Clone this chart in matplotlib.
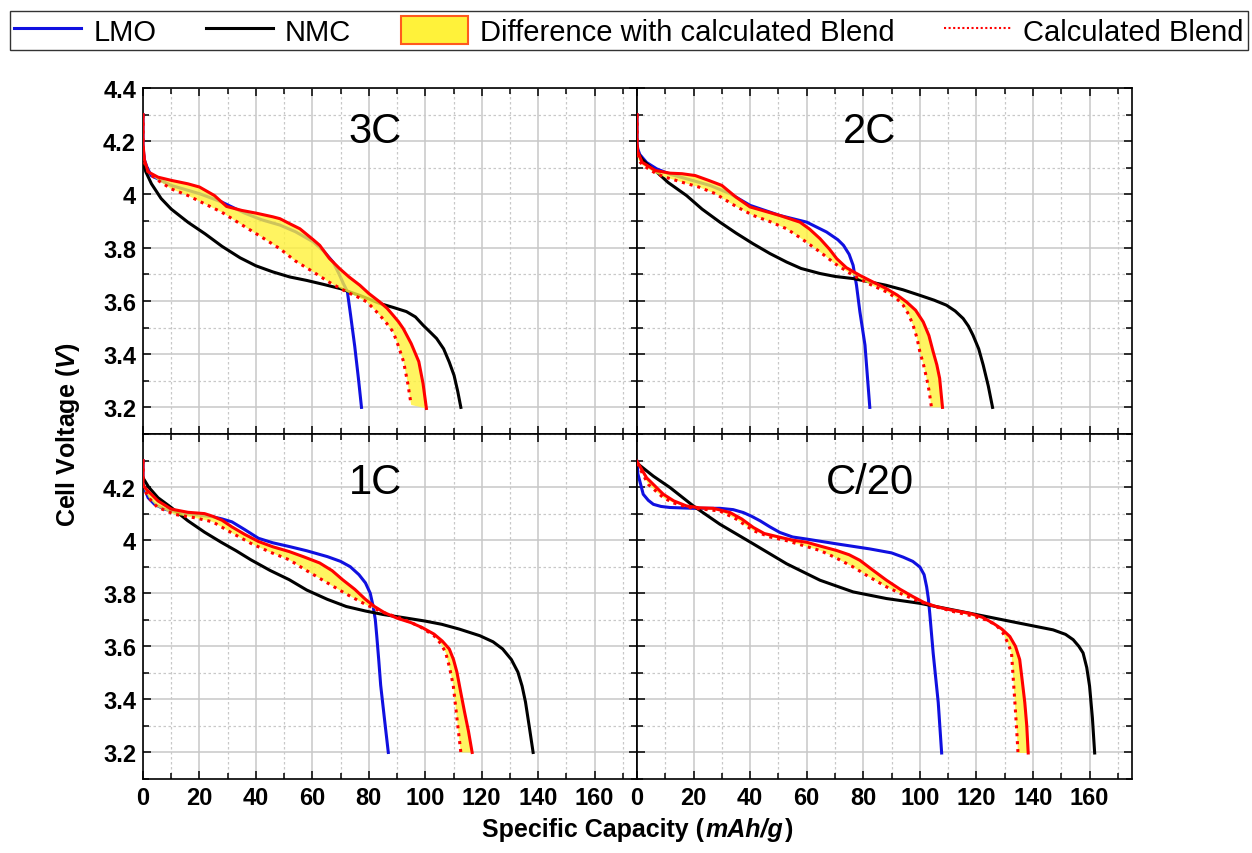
import numpy as np
import matplotlib
matplotlib.use("Agg")
import matplotlib.pyplot as plt
from matplotlib.lines import Line2D
from matplotlib.patches import Patch
from matplotlib.ticker import MultipleLocator, FuncFormatter
from matplotlib.offsetbox import TextArea, HPacker, AnchoredOffsetbox

plt.rcParams["font.family"] = ["Liberation Sans", "DejaVu Sans"]
plt.rcParams["mathtext.fontset"] = "custom"
plt.rcParams["mathtext.it"] = "Liberation Sans:bold:italic"
plt.rcParams["mathtext.rm"] = "Liberation Sans:bold"

# ===============================
# Data (capacity in mAh/g, voltage in V)
# ===============================
# --- 3C ---
lmo_3c_x = [0, 0, 0.5, 1.5, 2.9, 10, 20, 27.8, 36, 42, 48.5, 54, 60.3, 64, 67.4, 69.5, 71, 72.4, 73.5, 75, 76.3, 77.4]
lmo_3c_y = [4.30, 4.18, 4.13, 4.10, 4.071, 4.034, 4.003, 3.972, 3.93, 3.905, 3.885, 3.86, 3.822, 3.787, 3.745, 3.70, 3.665, 3.635, 3.55, 3.43, 3.31, 3.20]
nmc_3c_x = [0, 1, 3, 6.4, 10, 16, 22, 28, 34.4, 40, 46, 52, 58, 64, 70, 77, 84, 88.5, 93.3, 96.5, 99.2, 102, 104, 106.5, 108.5, 110.2, 111.5, 112.6]
nmc_3c_y = [4.12, 4.085, 4.04, 3.985, 3.945, 3.895, 3.852, 3.805, 3.762, 3.732, 3.709, 3.69, 3.677, 3.662, 3.646, 3.62, 3.59, 3.576, 3.56, 3.54, 3.509, 3.48, 3.459, 3.42, 3.37, 3.32, 3.26, 3.20]
meas_3c_x = [0, 0, 0.5, 1.8, 5.3, 10, 15.9, 20, 25.3, 29.6, 35, 40, 46, 48.5, 52, 55.6, 58, 60.3, 62.6, 66, 69.7, 73, 76.8, 80, 83.9, 86.5, 88.6, 90.5, 92.2, 95, 97.7, 99.2, 100.4]
meas_3c_y = [4.30, 4.19, 4.13, 4.085, 4.065, 4.053, 4.04, 4.028, 3.996, 3.955, 3.94, 3.93, 3.916, 3.909, 3.89, 3.871, 3.85, 3.83, 3.809, 3.76, 3.721, 3.69, 3.659, 3.628, 3.596, 3.572, 3.546, 3.522, 3.496, 3.44, 3.372, 3.29, 3.196]
calc_3c_x = [0, 0, 0.5, 2, 5.3, 10, 15.9, 21.8, 27.8, 35.3, 42, 48.5, 54, 60.3, 66, 72.1, 76, 79.2, 81.6, 83.9, 86.3, 88.6, 90.5, 92.3, 93.8, 95]
calc_3c_y = [4.30, 4.17, 4.12, 4.08, 4.053, 4.021, 3.996, 3.965, 3.934, 3.884, 3.84, 3.796, 3.75, 3.709, 3.67, 3.634, 3.615, 3.597, 3.572, 3.546, 3.516, 3.484, 3.43, 3.372, 3.29, 3.209]

# --- 2C ---
lmo_2c_x = [0, 0, 0.3, 1, 3.4, 7, 12, 17.5, 25.8, 32.9, 40, 50.5, 60, 67, 71, 73, 75, 76.4, 77.6, 78.8, 80.6, 82.3]
lmo_2c_y = [4.30, 4.19, 4.17, 4.15, 4.12, 4.096, 4.075, 4.059, 4.034, 4.003, 3.959, 3.921, 3.896, 3.859, 3.83, 3.809, 3.775, 3.734, 3.659, 3.559, 3.434, 3.20]
nmc_2c_x = [0, 2, 5, 7, 11, 17.5, 23, 29.3, 35, 41, 47, 52.9, 58, 64.7, 70, 76.4, 82, 88, 94, 100, 105, 109.4, 112.5, 115.3, 117.2, 118.8, 120.8, 122.4, 124.2, 125.7]
nmc_2c_y = [4.16, 4.13, 4.10, 4.084, 4.045, 3.996, 3.945, 3.896, 3.855, 3.815, 3.778, 3.746, 3.722, 3.703, 3.692, 3.684, 3.672, 3.659, 3.642, 3.621, 3.603, 3.584, 3.562, 3.534, 3.505, 3.471, 3.42, 3.359, 3.28, 3.20]
meas_2c_x = [0, 0, 0.3, 1.8, 6.5, 11.7, 15.9, 20.6, 25.3, 30, 35, 40, 50.5, 57.6, 61, 64.7, 68, 70.6, 74, 78.8, 84, 88.2, 92, 95.3, 98.5, 101.2, 103.2, 104.7, 106, 107, 108]
meas_2c_y = [4.30, 4.196, 4.16, 4.121, 4.09, 4.08, 4.078, 4.071, 4.053, 4.034, 3.99, 3.953, 3.921, 3.896, 3.87, 3.834, 3.795, 3.759, 3.725, 3.696, 3.668, 3.646, 3.622, 3.596, 3.565, 3.521, 3.47, 3.409, 3.36, 3.309, 3.20]
calc_2c_x = [0, 0, 0.5, 2, 7, 10, 15.9, 21.8, 27.7, 35, 41.1, 47, 52.9, 58, 64.7, 70, 76.4, 82, 88.2, 91.5, 94.1, 96, 97.6, 99, 100, 101.3, 102.4, 103.3, 104.1]
calc_2c_y = [4.30, 4.17, 4.13, 4.11, 4.077, 4.065, 4.046, 4.028, 4.003, 3.955, 3.921, 3.898, 3.871, 3.835, 3.784, 3.74, 3.696, 3.664, 3.634, 3.612, 3.584, 3.55, 3.509, 3.46, 3.409, 3.36, 3.309, 3.26, 3.20]

# --- 1C ---
lmo_1c_x = [0, 0, 1.8, 4.1, 7.6, 12.3, 19, 24.7, 28, 31.5, 36, 40.9, 46, 51.8, 58, 65.3, 70, 73.4, 76.5, 78.8, 80.5, 81.5, 82.3, 82.8, 83.5, 84.2, 85.5, 86.9]
lmo_1c_y = [4.30, 4.21, 4.16, 4.135, 4.117, 4.105, 4.095, 4.088, 4.08, 4.069, 4.04, 4.007, 3.99, 3.976, 3.96, 3.938, 3.92, 3.90, 3.87, 3.839, 3.80, 3.752, 3.70, 3.64, 3.55, 3.453, 3.33, 3.20]
nmc_1c_x = [0, 2, 5.3, 10, 15.9, 21.8, 27.7, 33, 38.2, 45, 51.8, 58, 65.3, 72, 78.8, 85, 92.3, 100, 105.8, 112, 119.3, 124, 127.4, 130.5, 132.8, 134.3, 135.5, 136.8, 138.2]
nmc_1c_y = [4.235, 4.20, 4.16, 4.123, 4.073, 4.03, 3.992, 3.96, 3.926, 3.886, 3.851, 3.812, 3.777, 3.75, 3.733, 3.72, 3.708, 3.695, 3.683, 3.665, 3.64, 3.617, 3.59, 3.55, 3.503, 3.45, 3.39, 3.30, 3.20]
meas_1c_x = [0, 0, 0.5, 1.8, 5.3, 10, 15.9, 21.8, 24.7, 28, 31.5, 36, 40.9, 46, 51.8, 57, 62.6, 67, 70.7, 75, 78.8, 82, 85.5, 90, 95, 99, 103.1, 106, 108.5, 110, 111.2, 112.5, 113.9, 115.3, 116.6]
meas_1c_y = [4.30, 4.212, 4.20, 4.185, 4.148, 4.117, 4.105, 4.10, 4.09, 4.075, 4.05, 4.022, 3.995, 3.975, 3.957, 3.937, 3.914, 3.885, 3.851, 3.815, 3.777, 3.75, 3.727, 3.706, 3.689, 3.67, 3.646, 3.62, 3.59, 3.55, 3.503, 3.43, 3.353, 3.28, 3.20]
calc_1c_x = [0, 0, 0.5, 2, 5, 11.2, 18, 24.7, 31, 38.2, 45, 51.8, 58, 65.3, 72, 78.8, 85, 92.3, 98, 103.1, 105.5, 107.2, 108.6, 109.9, 111.2, 112.6]
calc_1c_y = [4.30, 4.21, 4.19, 4.16, 4.125, 4.097, 4.085, 4.069, 4.03, 3.988, 3.955, 3.926, 3.885, 3.839, 3.797, 3.758, 3.728, 3.702, 3.675, 3.64, 3.61, 3.577, 3.52, 3.453, 3.33, 3.20]

# --- C/20 ---
lmo_c20_x = [0, 0.3, 1, 2.2, 4, 5.8, 8.5, 11.7, 19.9, 29.3, 34, 37.6, 40.5, 43.5, 47, 50.5, 55, 60, 70.6, 82.3, 90, 94.1, 97.5, 100, 101.5, 102.4, 103, 103.5, 104.7, 106.5, 107.7]
lmo_c20_y = [4.297, 4.25, 4.222, 4.173, 4.15, 4.135, 4.127, 4.123, 4.12, 4.12, 4.115, 4.104, 4.09, 4.073, 4.05, 4.029, 4.012, 4.004, 3.986, 3.967, 3.952, 3.936, 3.92, 3.899, 3.87, 3.824, 3.78, 3.724, 3.575, 3.388, 3.198]
nmc_c20_x = [0, 5.8, 11.7, 19.9, 29.3, 41.1, 52.9, 64.7, 76.4, 88.2, 100, 111.8, 123.6, 135.3, 147.1, 151.5, 154.2, 156.2, 157.7, 159, 160, 161, 161.8]
nmc_c20_y = [4.29, 4.241, 4.198, 4.129, 4.06, 3.986, 3.911, 3.849, 3.805, 3.78, 3.762, 3.737, 3.712, 3.687, 3.662, 3.645, 3.625, 3.60, 3.575, 3.52, 3.45, 3.33, 3.198]
meas_c20_x = [0, 3.4, 9.3, 13, 17.5, 22, 27, 32.9, 37, 41.1, 45, 50.5, 55, 60, 65, 70.6, 75, 78.8, 83, 88.2, 93, 97.6, 101.5, 105.9, 111, 117.7, 122, 125.9, 129, 131.8, 133.8, 135.3, 136.2, 137.1, 137.8, 138.3]
meas_c20_y = [4.297, 4.235, 4.173, 4.148, 4.129, 4.122, 4.12, 4.104, 4.08, 4.048, 4.025, 4.011, 4.0, 3.992, 3.977, 3.961, 3.945, 3.924, 3.89, 3.849, 3.815, 3.787, 3.765, 3.749, 3.737, 3.724, 3.71, 3.687, 3.665, 3.637, 3.60, 3.55, 3.47, 3.388, 3.30, 3.198]
calc_c20_x = [0, 4, 9.3, 13, 17.5, 22, 29.3, 35, 41.1, 47, 52.9, 58, 64.7, 70, 76.4, 82, 88.2, 94, 100, 106, 111.8, 118, 123.6, 127, 129.4, 131.2, 132.4, 133, 133.6, 134.2, 134.7]
calc_c20_y = [4.29, 4.21, 4.16, 4.14, 4.125, 4.118, 4.11, 4.08, 4.036, 4.012, 3.998, 3.982, 3.961, 3.935, 3.899, 3.862, 3.824, 3.795, 3.768, 3.748, 3.731, 3.716, 3.699, 3.68, 3.65, 3.61, 3.575, 3.48, 3.388, 3.29, 3.198]

rates = ["3C", "2C", "1C", "C/20"]
lmo = [(lmo_3c_x, lmo_3c_y), (lmo_2c_x, lmo_2c_y), (lmo_1c_x, lmo_1c_y), (lmo_c20_x, lmo_c20_y)]
nmc = [(nmc_3c_x, nmc_3c_y), (nmc_2c_x, nmc_2c_y), (nmc_1c_x, nmc_1c_y), (nmc_c20_x, nmc_c20_y)]
meas = [(meas_3c_x, meas_3c_y), (meas_2c_x, meas_2c_y), (meas_1c_x, meas_1c_y), (meas_c20_x, meas_c20_y)]
calc = [(calc_3c_x, calc_3c_y), (calc_2c_x, calc_2c_y), (calc_1c_x, calc_1c_y), (calc_c20_x, calc_c20_y)]

BLUE = "#1010e0"
RED = "#ff0000"
YELLOW = "#fff23a"

# ===============================
# Figure and panels
# ===============================
fig = plt.figure(figsize=(12.52, 8.54), dpi=100)
L, M, R = 143 / 1252, 637 / 1252, 1132 / 1252
T, MY, B = 1 - 89 / 854, 1 - 435 / 854, 1 - 780 / 854
boxes = [(L, MY, M - L, T - MY), (M, MY, R - M, T - MY),
         (L, B, M - L, MY - B), (M, B, R - M, MY - B)]

fmt = FuncFormatter(lambda v, p: "%g" % round(v, 2))

for i, box in enumerate(boxes):
    ax = fig.add_axes(box)
    ax.set_xlim(0, 175)
    ax.set_ylim(3.1, 4.4)
    ax.xaxis.set_major_locator(MultipleLocator(20))
    ax.xaxis.set_minor_locator(MultipleLocator(10))
    if i < 2:
        ax.set_yticks(np.arange(3.2, 4.41, 0.2))
    else:
        ax.set_yticks(np.arange(3.2, 4.21, 0.2))
    ax.yaxis.set_minor_locator(MultipleLocator(0.1))
    ax.xaxis.set_major_formatter(fmt)
    ax.yaxis.set_major_formatter(fmt)
    ax.grid(which="major", color="#c8c8c8", lw=1.1)
    ax.grid(which="minor", color="#c8c8c8", lw=0.9, ls=(0, (2, 2)))
    ax.set_axisbelow(True)
    ax.tick_params(which="both", direction="in", top=True, right=True, width=1.1)
    ax.tick_params(which="major", length=6, labelsize=17, pad=5)
    ax.tick_params(which="minor", length=4)
    for lab in ax.get_xticklabels() + ax.get_yticklabels():
        lab.set_fontweight("bold")
    if i % 2 == 1:
        ax.tick_params(labelleft=False)
    if i < 2:
        ax.tick_params(labelbottom=False)
    for s in ax.spines.values():
        s.set_linewidth(1.2)

    ax.plot(*lmo[i], color=BLUE, lw=2.2, zorder=2)
    ax.plot(*nmc[i], color="black", lw=2.2, zorder=2)
    mx, my = meas[i]
    cx, cy = calc[i]
    ax.fill(list(mx) + list(cx)[::-1], list(my) + list(cy)[::-1],
            color=YELLOW, alpha=0.8, lw=0, zorder=3)
    ax.plot(cx, cy, color=RED, lw=2.2, ls=(0, (1, 1.6)), zorder=4)
    ax.plot(mx, my, color=RED, lw=2.2, zorder=5)
    ty = 0.875 if i < 2 else 0.86
    ax.text(0.47, ty, rates[i], transform=ax.transAxes, ha="center", va="center", fontsize=30)

# axis labels
fig.text(0.054, (T + B) / 2, "Cell Voltage ($\\mathit{V}$)", rotation=90, ha="center", va="center",
         fontsize=18, fontweight="bold")
xlab = HPacker(children=[
    TextArea("Specific Capacity (", textprops=dict(fontsize=18, fontweight="bold")),
    TextArea("mAh/g", textprops=dict(fontsize=18, fontweight="bold", fontstyle="italic")),
    TextArea(")", textprops=dict(fontsize=18, fontweight="bold")),
], align="baseline", pad=0, sep=1)
fig.add_artist(AnchoredOffsetbox(loc="center", child=xlab, frameon=False, pad=0, borderpad=0,
                                 bbox_to_anchor=((L + R) / 2, 1 - 830 / 854),
                                 bbox_transform=fig.transFigure))

handles = [
    Line2D([], [], color=BLUE, lw=2.2),
    Line2D([], [], color="black", lw=2.2),
    Patch(facecolor=YELLOW, edgecolor="#ff5a1e", lw=1.5),
    Line2D([], [], color=RED, lw=1.5, ls=(0, (1, 1.2))),
]
labels = ["LMO", "NMC", "Difference with calculated Blend", "Calculated Blend"]
leg = fig.legend(handles, labels, loc="lower left",
                 bbox_to_anchor=(10 / 1252, 1 - 51 / 854, 1238 / 1252, 37 / 854), mode="expand",
                 ncol=4, fontsize=21, frameon=True, fancybox=False, edgecolor="black",
                 handlelength=2.3, handleheight=1.1, columnspacing=1.2, handletextpad=0.4,
                 borderpad=0.15, borderaxespad=0.0)
leg.get_frame().set_linewidth(1.0)

plt.savefig("out.png", dpi=100)
plt.close()
